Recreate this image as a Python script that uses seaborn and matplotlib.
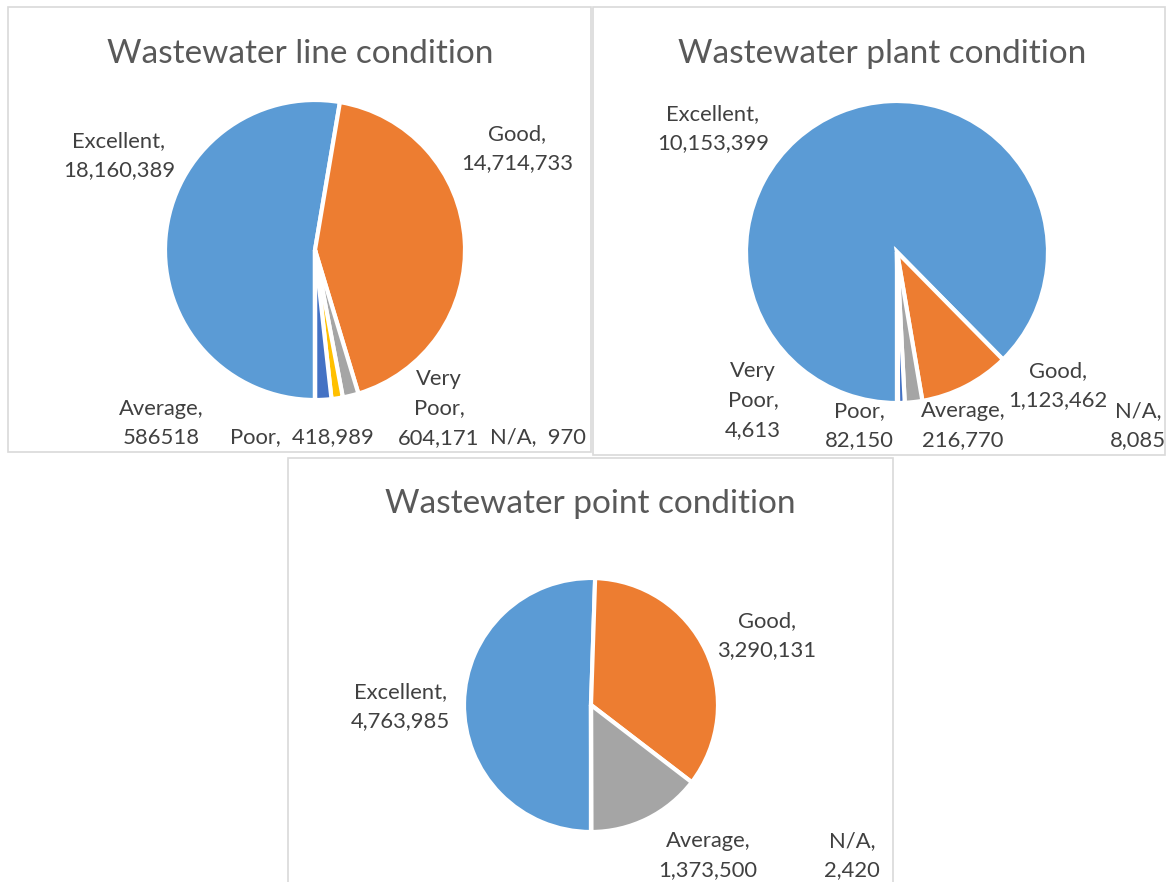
import matplotlib
matplotlib.use("Agg")
import matplotlib.pyplot as plt
from matplotlib.patches import Rectangle
import seaborn as sns

# ---------------- data ----------------
categories = ["Excellent", "Good", "Average", "Poor", "Very Poor", "N/A"]

line_values = [18160389, 14714733, 586518, 418989, 604171, 970]
line_labels = ["Excellent,\n18,160,389", "Good,\n14,714,733", "Average,\n586518",
               "Poor,  418,989", "Very\nPoor,\n604,171", "N/A,  970"]

plant_values = [10153399, 1123462, 216770, 82150, 4613, 8085]
plant_labels = ["Excellent,\n10,153,399", "Good,\n1,123,462", "Average,\n216,770",
                "Poor,\n82,150", "Very\nPoor,\n4,613", "N/A,\n8,085"]

point_categories = ["Excellent", "Good", "Average", "N/A"]
point_values = [4763985, 3290131, 1373500, 2420]
point_labels = ["Excellent,\n4,763,985", "Good,\n3,290,131", "Average,\n1,373,500", "N/A,\n2,420"]

titles = ["Wastewater line condition", "Wastewater plant condition", "Wastewater point condition"]

# ---------------- style ----------------
sns.set_theme(style="white")
plt.rcParams["font.family"] = ["Lato", "DejaVu Sans"]

office = {"blue": "#5B9BD5", "orange": "#ED7D31", "gray": "#A5A5A5",
          "yellow": "#FFC000", "dblue": "#4472C4", "green": "#70AD47"}
line_colors = [office[k] for k in ["blue", "orange", "gray", "yellow", "dblue", "green"]]
plant_colors = [office[k] for k in ["blue", "orange", "gray", "dblue", "yellow", "green"]]
point_colors = [office[k] for k in ["blue", "orange", "gray", "green"]]

W, H = 1167, 882
fig = plt.figure(figsize=(W / 100, H / 100), dpi=100)
fig.patch.set_facecolor("white")


def fx(x):
    return x / W


def fy(y):
    return 1 - y / H


# panel borders
for (x0, y0, x1, y1) in [(8, 7, 591, 452), (593, 7, 1165, 455), (288, 458, 893, 900)]:
    fig.add_artist(Rectangle((fx(x0), fy(y1)), (x1 - x0) / W, (y1 - y0) / H,
                             transform=fig.transFigure, fill=False,
                             edgecolor="#D9D9D9", linewidth=1.2))

TITLE_COLOR = "#595959"
LABEL_COLOR = "#404040"
TITLE_SIZE = 24
LABEL_SIZE = 15.8
SPACING = 29.5


def draw_pie(values, colors, cx, cy, R):
    ax = fig.add_axes([fx(cx - R), fy(cy + R), 2 * R / W, 2 * R / H])
    ax.pie(values, colors=colors, startangle=270, counterclock=False,
           radius=1.0, wedgeprops=dict(edgecolor="white", linewidth=3.0))
    ax.set_xlim(-1, 1)
    ax.set_ylim(-1, 1)
    ax.set_aspect("equal")
    ax.axis("off")
    return ax


def put_label(text, cx, base):
    for i, ln in enumerate(text.split("\n")):
        fig.text(fx(cx), fy(base + i * SPACING), ln, ha="center", va="baseline",
                 fontsize=LABEL_SIZE, color=LABEL_COLOR)


# ---- chart 1 ----
fig.text(fx(300), fy(63), titles[0], ha="center", va="baseline",
         fontsize=TITLE_SIZE, color=TITLE_COLOR)
draw_pie(line_values, line_colors, 315, 250, 150)
line_pos = [(119, 147), (517, 140), (161, 415), (302, 443), (439, 385), (538, 443)]
for lab, (x, b) in zip(line_labels, line_pos):
    put_label(lab, x, b)

# ---- chart 2 ----
fig.text(fx(882), fy(63), titles[1], ha="center", va="baseline",
         fontsize=TITLE_SIZE, color=TITLE_COLOR)
draw_pie(plant_values, plant_colors, 897, 252, 151)
plant_pos = [(713, 120), (1058, 377), (963, 417), (859, 417), (753, 377), (1138, 417)]
for lab, (x, b) in zip(plant_labels, plant_pos):
    put_label(lab, x, b)

# ---- chart 3 ----
fig.text(fx(590), fy(513), titles[2], ha="center", va="baseline",
         fontsize=TITLE_SIZE, color=TITLE_COLOR)
draw_pie(point_values, point_colors, 591, 705, 127)
point_pos = [(400, 698), (767, 627), (708, 847), (852, 847)]
for lab, (x, b) in zip(point_labels, point_pos):
    put_label(lab, x, b)

fig.savefig("out.png", dpi=100, facecolor="white")
